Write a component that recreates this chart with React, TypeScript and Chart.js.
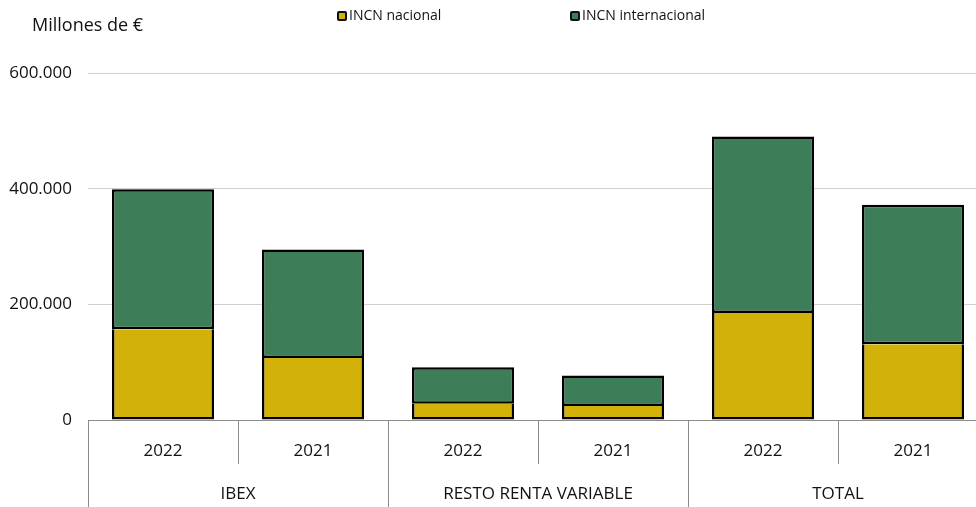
import React, { useEffect, useRef } from "react";
import { Chart, registerables } from "chart.js";

Chart.register(...registerables);

const categories = ["2022", "2021", "2022", "2021", "2022", "2021"];
const groups = ["IBEX", "RESTO RENTA VARIABLE", "TOTAL"];
const nacional = [157000, 107000, 28000, 24000, 185000, 131000];
const internacional = [242000, 188000, 63000, 53000, 305000, 241000];
const seriesNames = ["INCN nacional", "INCN internacional"];
const yTicks = [0, 200000, 400000, 600000];
const unitLabel = "Millones de €";

const GOLD = "#D2B108";
const GREEN = "#3D7E59";
const FONT = "'Open Sans', sans-serif";

const fmt = (v: number) => String(v).replace(/\B(?=(\d{3})+(?!\d))/g, ".");

const overlay = {
  id: "overlay",
  afterDraw(chart: any) {
    const ctx = chart.ctx;
    const x = chart.scales.x;
    const area = chart.chartArea;
    const n = categories.length;
    const step = x.getPixelForValue(1) - x.getPixelForValue(0);
    const bottom = area.bottom;
    ctx.save();
    // axis line
    ctx.strokeStyle = "#8c8c8c";
    ctx.lineWidth = 1;
    ctx.beginPath();
    ctx.moveTo(area.left, bottom + 0.5);
    ctx.lineTo(area.right, bottom + 0.5);
    ctx.stroke();
    // dividers
    for (let i = 0; i <= n; i++) {
      const px = Math.round(x.getPixelForValue(i) - step / 2) + 0.5;
      const long = i % 2 === 0;
      ctx.beginPath();
      ctx.moveTo(px, bottom);
      ctx.lineTo(px, long ? chart.height : bottom + 44);
      ctx.stroke();
    }
    ctx.fillStyle = "#111";
    ctx.textAlign = "center";
    ctx.textBaseline = "middle";
    ctx.font = `17px ${FONT}`;
    categories.forEach((c, i) => {
      ctx.fillText(c, x.getPixelForValue(i), bottom + 31);
    });
    groups.forEach((g, gi) => {
      const cx = (x.getPixelForValue(gi * 2) + x.getPixelForValue(gi * 2 + 1)) / 2;
      ctx.fillText(g, cx, bottom + 74);
    });
    // unit title
    ctx.textAlign = "left";
    ctx.font = `18px ${FONT}`;
    ctx.fillText(unitLabel, 32, 26);
    // legend
    ctx.font = `14px ${FONT}`;
    const legendX = [337, 570];
    [GOLD, GREEN].forEach((col, i) => {
      const lx = legendX[i];
      ctx.fillStyle = "#111";
      ctx.beginPath();
      ctx.roundRect(lx, 11, 10, 10, 2);
      ctx.fill();
      ctx.fillStyle = col;
      ctx.fillRect(lx + 2, 13, 6, 6);
      ctx.fillStyle = "#111";
      ctx.fillText(seriesNames[i], lx + 12, 16);
    });
    ctx.restore();
  },
};

export default function App() {
  const ref = useRef<HTMLCanvasElement>(null);
  useEffect(() => {
    if (!ref.current) return;
    const chart = new Chart(ref.current, {
      type: "bar",
      data: {
        labels: categories,
        datasets: [
          {
            label: seriesNames[0],
            data: nacional,
            backgroundColor: GOLD,
            borderColor: "#000",
            borderWidth: 2.5,
            borderSkipped: "top",
          },
          {
            label: seriesNames[1],
            data: internacional,
            backgroundColor: GREEN,
            borderColor: "#000",
            borderWidth: 2.5,
            borderSkipped: false,
          },
        ],
      },
      options: {
        responsive: false,
        animation: false,
        layout: { padding: { top: 73, bottom: 87, left: 0, right: 0 } },
        plugins: { legend: { display: false }, tooltip: { enabled: false } },
        datasets: { bar: { categoryPercentage: 1, barPercentage: 0.68, inflateAmount: 0 } },
        scales: {
          x: { stacked: true, display: false },
          y: {
            stacked: true,
            min: 0,
            max: 600000,
            afterFit: (s: any) => {
              s.width = 88;
            },
            afterBuildTicks: (s: any) => {
              s.ticks = yTicks.map((v) => ({ value: v }));
            },
            ticks: {
              padding: 16,
              color: "#111",
              font: { family: FONT, size: 17 },
              callback: (v: any) => fmt(Number(v)),
            },
            grid: { color: "#cfcfcf", lineWidth: 1, drawTicks: false },
            border: { display: false },
          },
        },
      },
      plugins: [overlay],
    });
    return () => chart.destroy();
  }, []);
  return (
    <div
      style={{
        position: "fixed",
        left: 0,
        top: 0,
        width: 976,
        height: 507,
        overflow: "hidden",
        background: "#fff",
      }}
    >
      <canvas ref={ref} width={988} height={507} style={{ width: 988, height: 507 }} />
    </div>
  );
}
